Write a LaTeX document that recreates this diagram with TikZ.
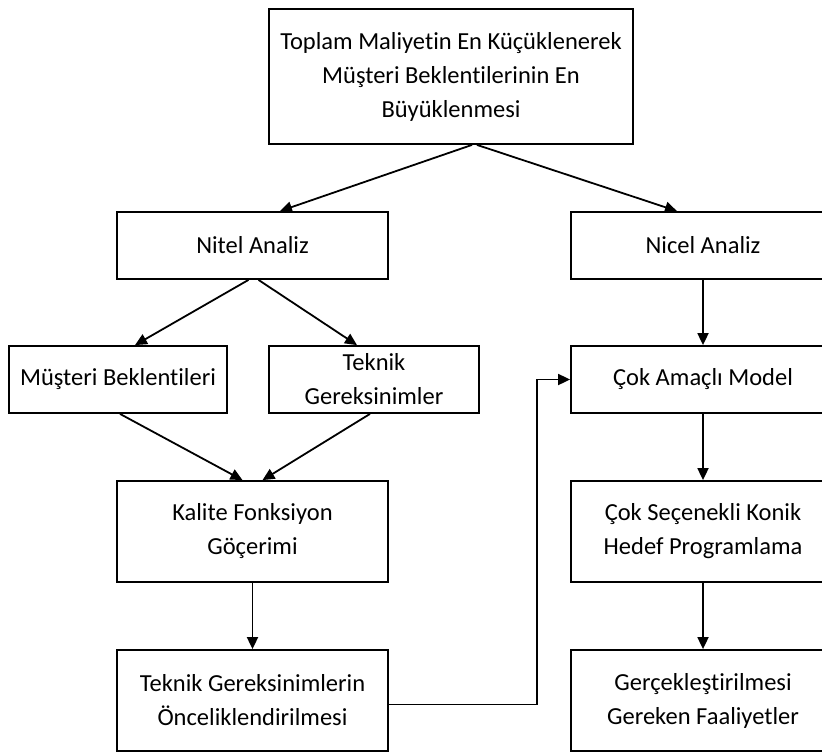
\documentclass[tikz,border=0pt]{standalone}
\usepackage{fontspec}
\setmainfont{Carlito}[Ligatures=NoCommon]
\usetikzlibrary{arrows.meta,positioning}

\begin{document}
\begin{tikzpicture}[x=1pt,y=-1pt]

\tikzstyle{box}=[draw=black,line width=1.8pt,align=center,inner sep=0pt,
  font=\fontsize{24.5}{34}\selectfont]
\tikzstyle{link}=[line width=1.8pt,-{Triangle[length=12pt,width=11pt]}]

\clip (0,0) rectangle (822,753);

%top
\node [box,minimum width=364pt,minimum height=135pt] (goal) at (451,76.5)
  {Toplam Maliyetin En Küçüklenerek\\Müşteri Beklentilerinin En\\Büyüklenmesi};

%left side
\node [box,minimum width=271pt,minimum height=67pt] (nitel) at (252.5,245.5) {Nitel Analiz};
\node [box,minimum width=218pt,minimum height=67pt] (musteri) at (118,379.5) {Müşteri Beklentileri};
\node [box,minimum width=210pt,minimum height=67pt] (teknik) at (374,379.5) {Teknik\\Gereksinimler};
\node [box,minimum width=271pt,minimum height=101pt] (kalite) at (252.5,531.5) {Kalite Fonksiyon\\Göçerimi};
\node [box,minimum width=271pt,minimum height=101pt] (oncelik) at (252.5,700.5) {Teknik Gereksinimlerin\\Önceliklendirilmesi};

%right side
\node [box,minimum width=264pt,minimum height=67pt] (nicel) at (703,245.5) {Nicel Analiz};
\node [box,minimum width=264pt,minimum height=67pt] (model) at (703,379.5) {Çok Amaçlı Model};
\node [box,minimum width=264pt,minimum height=101pt] (konik) at (703,531.5) {Çok Seçenekli Konik\\Hedef Programlama};
\node [box,minimum width=264pt,minimum height=101pt] (faaliyet) at (703,700.5) {Gerçekleştirilmesi\\Gereken Faaliyetler};

\coordinate (turn) at (537,379.5);

\draw [link] ([xshift=21pt]goal.south) -- ([xshift=27.5pt]nitel.north);
\draw [link] ([xshift=26pt]goal.south) -- ([xshift=-26pt]nicel.north);
\draw [link] ([xshift=-4pt]nitel.south) -- ([xshift=17pt]musteri.north);
\draw [link] ([xshift=6pt]nitel.south) -- ([xshift=-17pt]teknik.north);
\draw [link] ([xshift=2pt]musteri.south) -- ([xshift=-10pt]kalite.north);
\draw [link] ([xshift=-4pt]teknik.south) -- ([xshift=10pt]kalite.north);
\draw [link] (kalite) -- (oncelik);
\draw [link] ([yshift=-4pt]oncelik.east) -| (turn) -- (model.west);
\draw [link] (nicel) -- (model);
\draw [link] (model) -- (konik);
\draw [link] (konik) -- (faaliyet);

\end{tikzpicture}
\end{document}
